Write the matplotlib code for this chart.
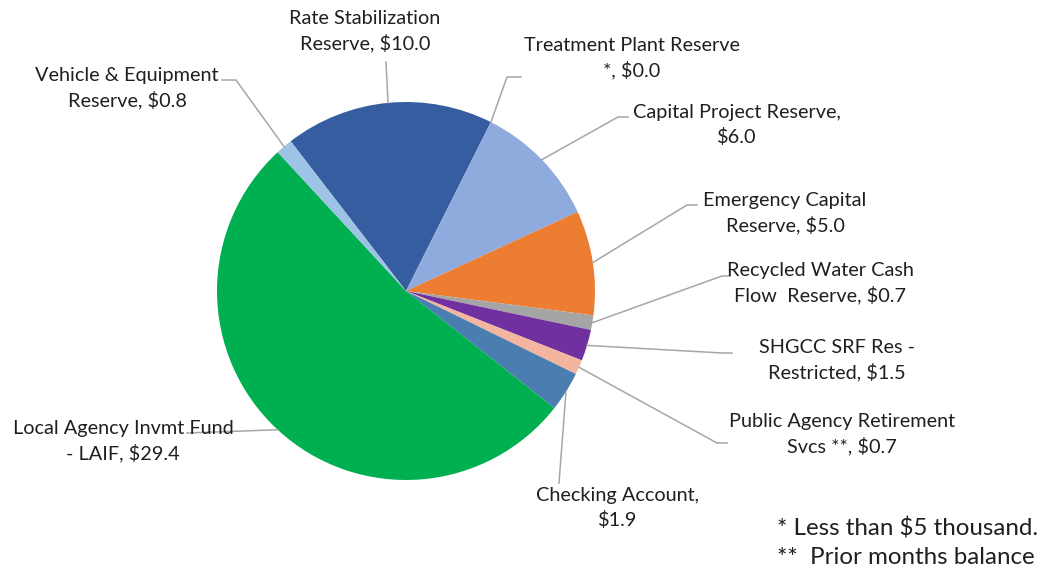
import numpy as np
import matplotlib.pyplot as plt

# reserve balances ($ millions), clockwise from Rate Stabilization
categories = ['Rate Stabilization Reserve', 'Treatment Plant Reserve',
              'Capital Project Reserve', 'Emergency Capital Reserve',
              'Recycled Water Cash Flow Reserve', 'SHGCC SRF Res - Restricted',
              'Public Agency Retirement Svcs', 'Checking Account',
              'Local Agency Invmt Fund - LAIF', 'Vehicle & Equipment Reserve']
values = [10.0, 0.0, 6.0, 5.0, 0.7, 1.5, 0.7, 1.9, 29.4, 0.8]
label_fmt = ['Rate Stabilization\nReserve, ${:.1f}',
             'Treatment Plant Reserve\n*, ${:.1f}',
             'Capital Project Reserve,\n${:.1f}',
             'Emergency Capital\nReserve, ${:.1f}',
             'Recycled Water Cash\nFlow  Reserve, ${:.1f}',
             'SHGCC SRF Res -\nRestricted, ${:.1f}',
             'Public Agency Retirement\nSvcs **, ${:.1f}',
             'Checking Account,\n${:.1f}',
             'Local Agency Invmt Fund\n- LAIF, ${:.1f}',
             'Vehicle & Equipment\nReserve, ${:.1f}']
colors = ['#355DA0', '#4472C4', '#8FAADC', '#ED7D31', '#A5A5A5',
          '#7030A0', '#F4B5A0', '#4A7EB0', '#00B050', '#9DC3E6']
footnotes = ['* Less than $5 thousand.', '**  Prior months balance']

W, H = 1053, 571

# label centres and leader elbows in pixel coords (y down)
label_pos = [(365, 31), (632, 58), (737, 125), (785, 213), (820, 283),
             (837, 360), (842, 434), (618, 508), (123, 441), (127, 88)]
leaders = [[(386, 62)],
           [(521, 77), (507, 77)],
           [(628, 117), (618, 117)],
           [(697, 205), (687, 205)],
           [(730, 276), (722, 276)],
           [(732, 353), (722, 353)],
           [(727, 443), (717, 443)],
           [(559, 483)],
           [(187, 433)],
           [(222, 80), (236, 80)]]

plt.rcParams['font.family'] = ['Lato', 'DejaVu Sans']

fig = plt.figure(figsize=(W / 100, H / 100), dpi=100)
ax = fig.add_axes([0, 0, 1, 1])

cx, cy, r = 406, H - 291, 189
wedges, _ = ax.pie(values, colors=colors, startangle=127.6, counterclock=False,
                   center=(cx, cy), radius=r, frame=True,
                   wedgeprops=dict(linewidth=0))

ax.set_xlim(0, W)
ax.set_ylim(0, H)
ax.set_aspect('equal')
ax.axis('off')

for w, fmt, v, (lx, ly), pts in zip(wedges, label_fmt, values, label_pos, leaders):
    mid = np.deg2rad((w.theta1 + w.theta2) / 2)
    ex, ey = cx + r * np.cos(mid), cy + r * np.sin(mid)
    xs = [p[0] for p in pts] + [ex]
    ys = [H - p[1] for p in pts] + [ey]
    ax.plot(xs, ys, color='#A6A6A6', lw=1.1, zorder=3)
    ax.text(lx, H - ly, fmt.format(v), ha='center', va='center', fontsize=14.3,
            color='#1f1f1f', linespacing=1.42, parse_math=False, zorder=4)

ax.text(777, H - 528, footnotes[0], ha='left', va='center', fontsize=17.4,
        color='#1f1f1f', parse_math=False)
ax.text(777, H - 557, footnotes[1], ha='left', va='center', fontsize=17.4,
        color='#1f1f1f', parse_math=False)

fig.savefig('out.png', dpi=100)
